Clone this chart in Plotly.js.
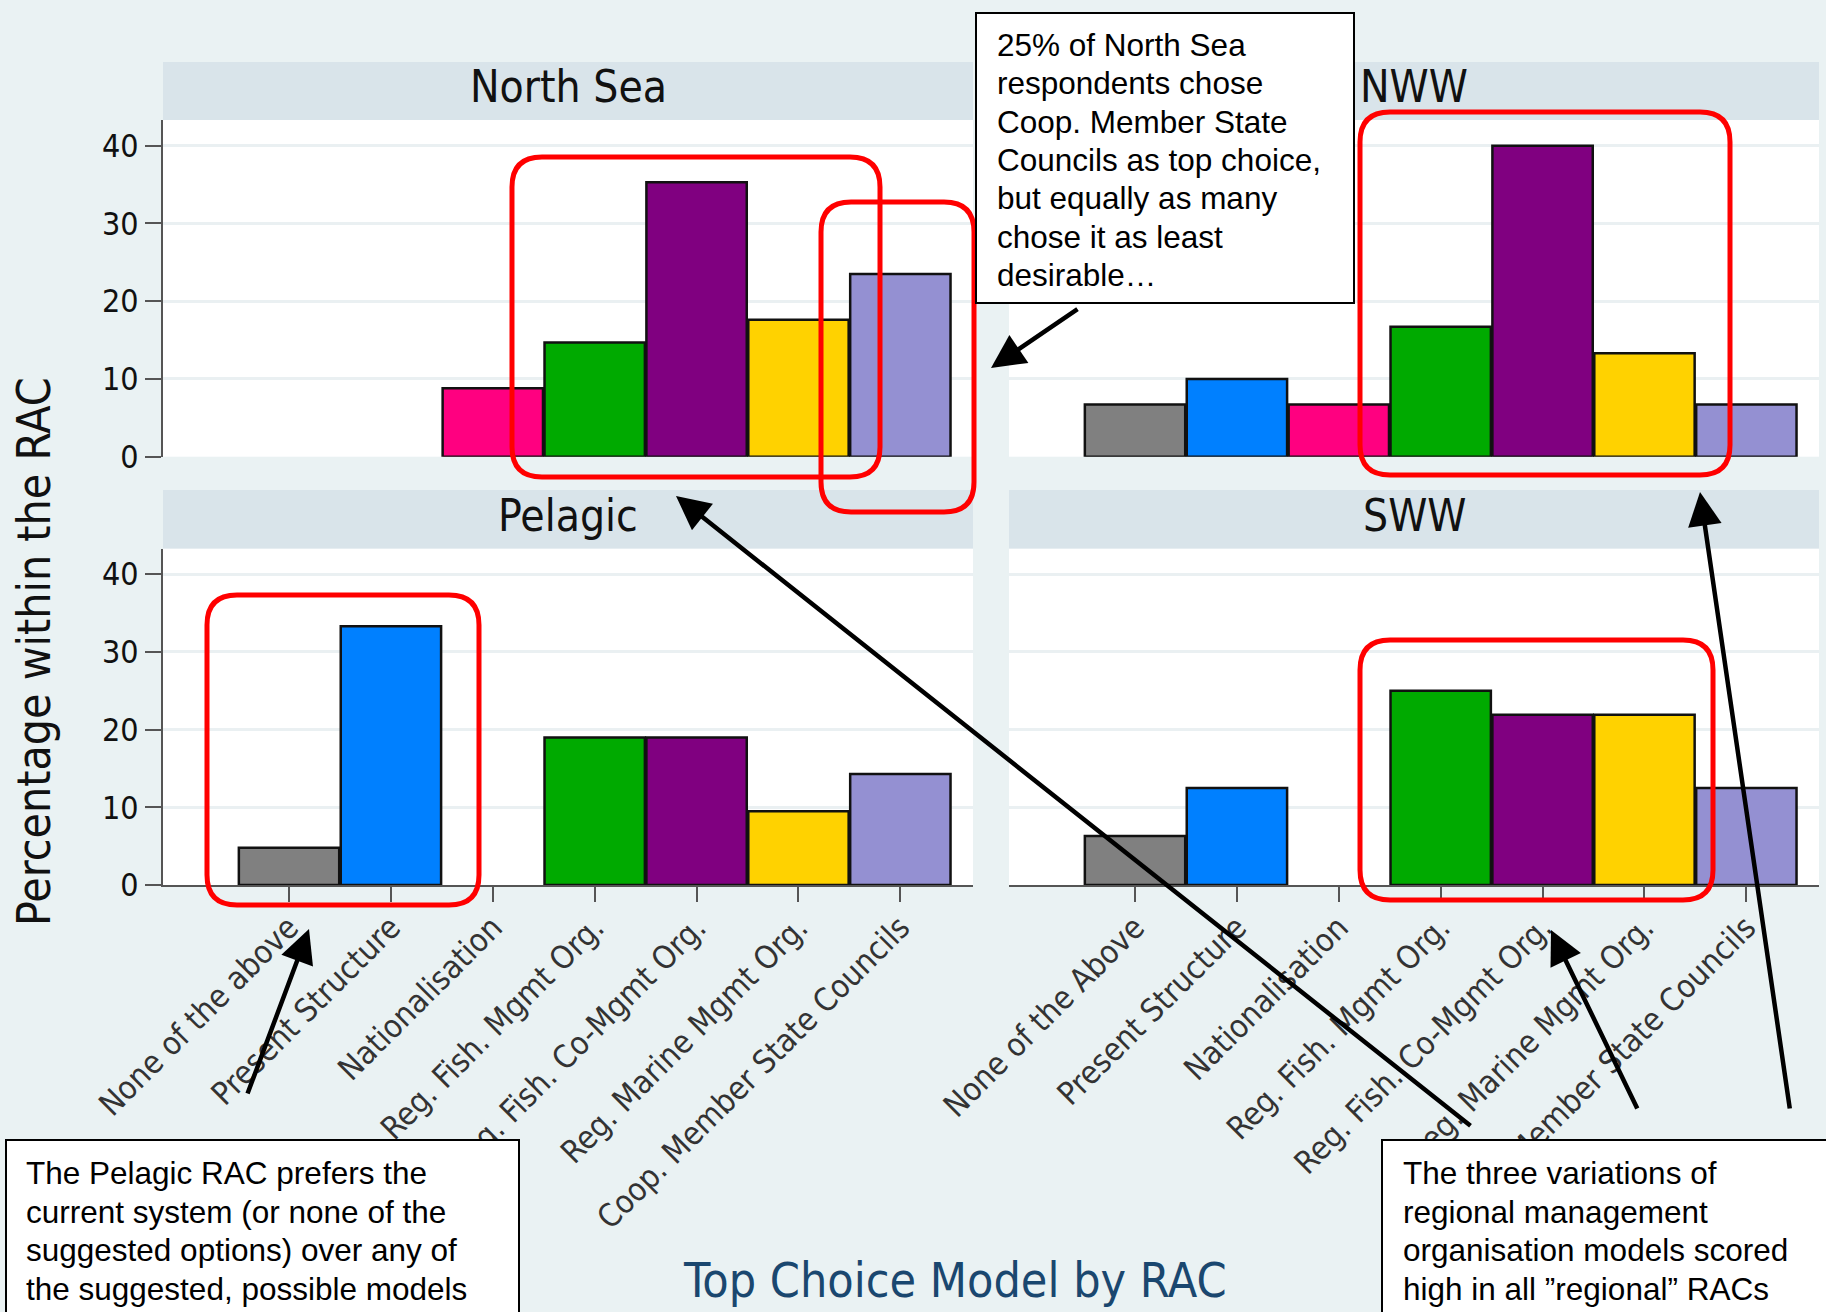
<!DOCTYPE html>
<html>
<head>
<meta charset="utf-8">
<script src="https://cdn.plot.ly/plotly-3.0.1.min.js"></script>
<style>
  html, body { margin: 0; padding: 0; background: #eaf2f3; }
  #chart { width: 1826px; height: 1312px; }
</style>
</head>
<body>
<div id="chart"></div>
<script>
// ---------------- DATA ----------------
const categories = ['None of the above', 'Present Structure', 'Nationalisation',
  'Reg. Fish. Mgmt Org.', 'Reg. Fish. Co-Mgmt Org.', 'Reg. Marine Mgmt Org.',
  'Coop. Member State Councils'];
const pelagicLabels = ['None of the above', 'Present Structure', 'Nationalisation',
  'Reg. Fish. Mgmt Org.', 'Reg. Fish. Co-Mgmt Org.', 'Reg. Marine Mgmt Org.',
  'Coop. Member State Councils'];
const swwLabels = ['None of the Above', 'Present Structure', 'Nationalisation',
  'Reg. Fish. Mgmt Org.', 'Reg. Fish. Co-Mgmt Org.', 'Reg. Marine Mgmt Org.',
  'Coop. Member State Councils'];
const northSea = [null, null, 8.8, 14.7, 35.3, 17.6, 23.5];
const nww      = [6.7, 10.0, 6.7, 16.7, 40.0, 13.3, 6.7];
const pelagic  = [4.8, 33.3, null, 19.0, 19.0, 9.5, 14.3];
const sww      = [6.3, 12.5, null, 25.0, 21.9, 21.9, 12.5];
const barColors = ['#808080', '#0080ff', '#ff0080', '#00aa00', '#800080', '#ffd200', '#9490d2'];
const panelTitles = ['North Sea', 'NWW', 'Pelagic', 'SWW'];
const yTicks = [0, 10, 20, 30, 40];
const chartTitle = 'Top Choice Model by RAC';
const yTitle = 'Percentage within the RAC';
const note1 = ['25% of North Sea', 'respondents chose', 'Coop. Member State',
  'Councils as top choice,', 'but equally as many', 'chose it as least', 'desirable…'];
const note2 = ['The Pelagic RAC prefers the', 'current system (or none of the',
  'suggested options) over any of', 'the suggested, possible models'];
const note3 = ['The three variations of', 'regional management',
  'organisation models scored', 'high in all ”regional” RACs'];

// ---------------- LAYOUT HELPERS ----------------
const W = 1826, H = 1312;
const px = x => x / W;
const py = y => 1 - y / H;
const chartFont = 'DejaVu Sans Condensed, DejaVu Sans, sans-serif';
const noteFont = 'Liberation Sans, Arial, sans-serif';

function rr(x0, y0, x1, y1, r) {
  const P = (x, y) => px(x).toFixed(5) + ',' + py(y).toFixed(5);
  return 'M' + P(x0 + r, y0) + ' L' + P(x1 - r, y0) + ' Q' + P(x1, y0) + ' ' + P(x1, y0 + r) +
    ' L' + P(x1, y1 - r) + ' Q' + P(x1, y1) + ' ' + P(x1 - r, y1) +
    ' L' + P(x0 + r, y1) + ' Q' + P(x0, y1) + ' ' + P(x0, y1 - r) +
    ' L' + P(x0, y0 + r) + ' Q' + P(x0, y0) + ' ' + P(x0 + r, y0) + ' Z';
}

// panel geometry (pixels)
const colX = [[163, 973], [1009, 1819]];
const rowY = [[120, 456.7], [548.6, 885]];       // [top, bottom(y=0)]
const headerY = [[62, 120], [490, 548.6]];
const yRange = [0, 43.3];
const xRange = [-1.237, 6.713];

const series = [northSea, nww, pelagic, sww];
const traces = series.map((vals, i) => ({
  type: 'bar',
  x: categories,
  y: vals,
  xaxis: i === 0 ? 'x' : 'x' + (i + 1),
  yaxis: i === 0 ? 'y' : 'y' + (i + 1),
  marker: { color: barColors, line: { color: '#111111', width: 2.5 } },
  showlegend: false,
  hoverinfo: 'skip'
}));

const layout = {
  width: W, height: H,
  margin: { l: 0, r: 0, t: 0, b: 0 },
  paper_bgcolor: '#eaf2f3',
  plot_bgcolor: '#ffffff',
  bargap: 0.015,
  showlegend: false,
  hovermode: false,
  font: { family: chartFont, color: '#222222' },
  shapes: [],
  annotations: []
};

for (let i = 0; i < 4; i++) {
  const col = i % 2, row = Math.floor(i / 2);
  const xs = i === 0 ? '' : String(i + 1);
  const bottom = row === 1, left = col === 0;
  layout['xaxis' + xs] = {
    domain: [px(colX[col][0]), px(colX[col][1])],
    anchor: 'y' + xs,
    type: 'category',
    categoryorder: 'array',
    categoryarray: categories,
    range: xRange,
    showgrid: false,
    zeroline: false,
    fixedrange: true,
    showline: bottom,
    linecolor: '#555555',
    linewidth: 2,
    ticks: bottom ? 'outside' : '',
    ticklen: 15,
    tickwidth: 2,
    tickcolor: '#555555',
    showticklabels: bottom,
    ticklabelstandoff: -6,
    tickmode: 'array',
    tickvals: categories,
    ticktext: i === 3 ? swwLabels : pelagicLabels,
    tickangle: -45,
    tickfont: { family: chartFont, size: 32, color: '#333333' }
  };
  layout['yaxis' + xs] = {
    domain: [py(rowY[row][1]), py(rowY[row][0])],
    anchor: 'x' + xs,
    range: yRange,
    fixedrange: true,
    zeroline: false,
    showgrid: true,
    gridcolor: '#eaf0f2',
    gridwidth: 3,
    tickmode: 'array',
    tickvals: yTicks,
    showline: left,
    linecolor: '#555555',
    linewidth: 2,
    ticks: left ? 'outside' : '',
    ticklen: 16,
    tickwidth: 2,
    tickcolor: '#555555',
    showticklabels: left,
    tickfont: { family: chartFont, size: 32, color: '#111111' }
  };
  // strip header
  layout.shapes.push({
    type: 'rect', xref: 'paper', yref: 'paper', layer: 'below',
    x0: px(colX[col][0]), x1: px(colX[col][1]),
    y0: py(headerY[row][1]), y1: py(headerY[row][0]),
    fillcolor: '#d9e4ea', line: { width: 0 }
  });
  layout.annotations.push({
    xref: 'paper', yref: 'paper', showarrow: false,
    x: px((colX[col][0] + colX[col][1]) / 2),
    y: py((headerY[row][0] + headerY[row][1]) / 2 - 4),
    xanchor: 'center', yanchor: 'middle',
    text: panelTitles[i],
    font: { family: chartFont, size: 44, color: '#111111' }
  });
}

// axis title & chart title
layout.annotations.push({
  xref: 'paper', yref: 'paper', showarrow: false,
  x: px(34), y: py(652), xanchor: 'center', yanchor: 'middle',
  textangle: -90, text: yTitle,
  font: { family: chartFont, size: 46, color: '#111111' }
});
layout.annotations.push({
  xref: 'paper', yref: 'paper', showarrow: false,
  x: px(955), y: py(1280), xanchor: 'center', yanchor: 'middle',
  text: chartTitle,
  font: { family: chartFont, size: 48, color: '#1a476f' }
});

// red highlight boxes
const redBoxes = [
  [512, 157, 880, 477], [821, 202, 974, 512], [1360, 112, 1730, 475],
  [207, 595, 479, 905], [1360, 640, 1713, 900]
];
redBoxes.forEach(b => layout.shapes.push({
  type: 'path', xref: 'paper', yref: 'paper', layer: 'above',
  path: rr(b[0], b[1], b[2], b[3], 30),
  line: { color: '#ff0000', width: 5 }, fillcolor: 'rgba(0,0,0,0)'
}));

// note boxes
const noteBoxes = [[976, 13, 1354, 303], [6, 1140, 519, 1330], [1382, 1140, 1840, 1330]];
noteBoxes.forEach(b => layout.shapes.push({
  type: 'rect', xref: 'paper', yref: 'paper', layer: 'above',
  x0: px(b[0]), x1: px(b[2]), y0: py(b[3]), y1: py(b[1]),
  fillcolor: '#ffffff', line: { color: '#000000', width: 2 }
}));
function addNote(lines, x, y0, step) {
  lines.forEach((t, k) => layout.annotations.push({
    xref: 'paper', yref: 'paper', showarrow: false,
    x: px(x), y: py(y0 + k * step), xanchor: 'left', yanchor: 'middle',
    text: t, font: { family: noteFont, size: 31.5, color: '#000000' }
  }));
}
addNote(note1, 995, 45, 38.3);
addNote(note2, 24, 1173, 38.6);
addNote(note3, 1401, 1173, 38.6);

// arrows: [headX, headY, tailX, tailY]
const arrows = [
  [991, 368, 1079, 308], [309, 929, 247, 1095], [676, 496, 1472, 1127],
  [1551, 930, 1638, 1110], [1700, 492, 1790, 1110]
];
arrows.forEach(a => layout.annotations.push({
  xref: 'paper', yref: 'paper', x: px(a[0]), y: py(a[1]),
  ax: a[2] - a[0], ay: a[3] - a[1], axref: 'pixel', ayref: 'pixel',
  text: '', showarrow: true, arrowhead: 2, arrowsize: 1.5, arrowwidth: 4.5,
  arrowcolor: '#000000', standoff: 0
}));

Plotly.newPlot('chart', traces, layout, { staticPlot: true, displayModeBar: false });
</script>
</body>
</html>
